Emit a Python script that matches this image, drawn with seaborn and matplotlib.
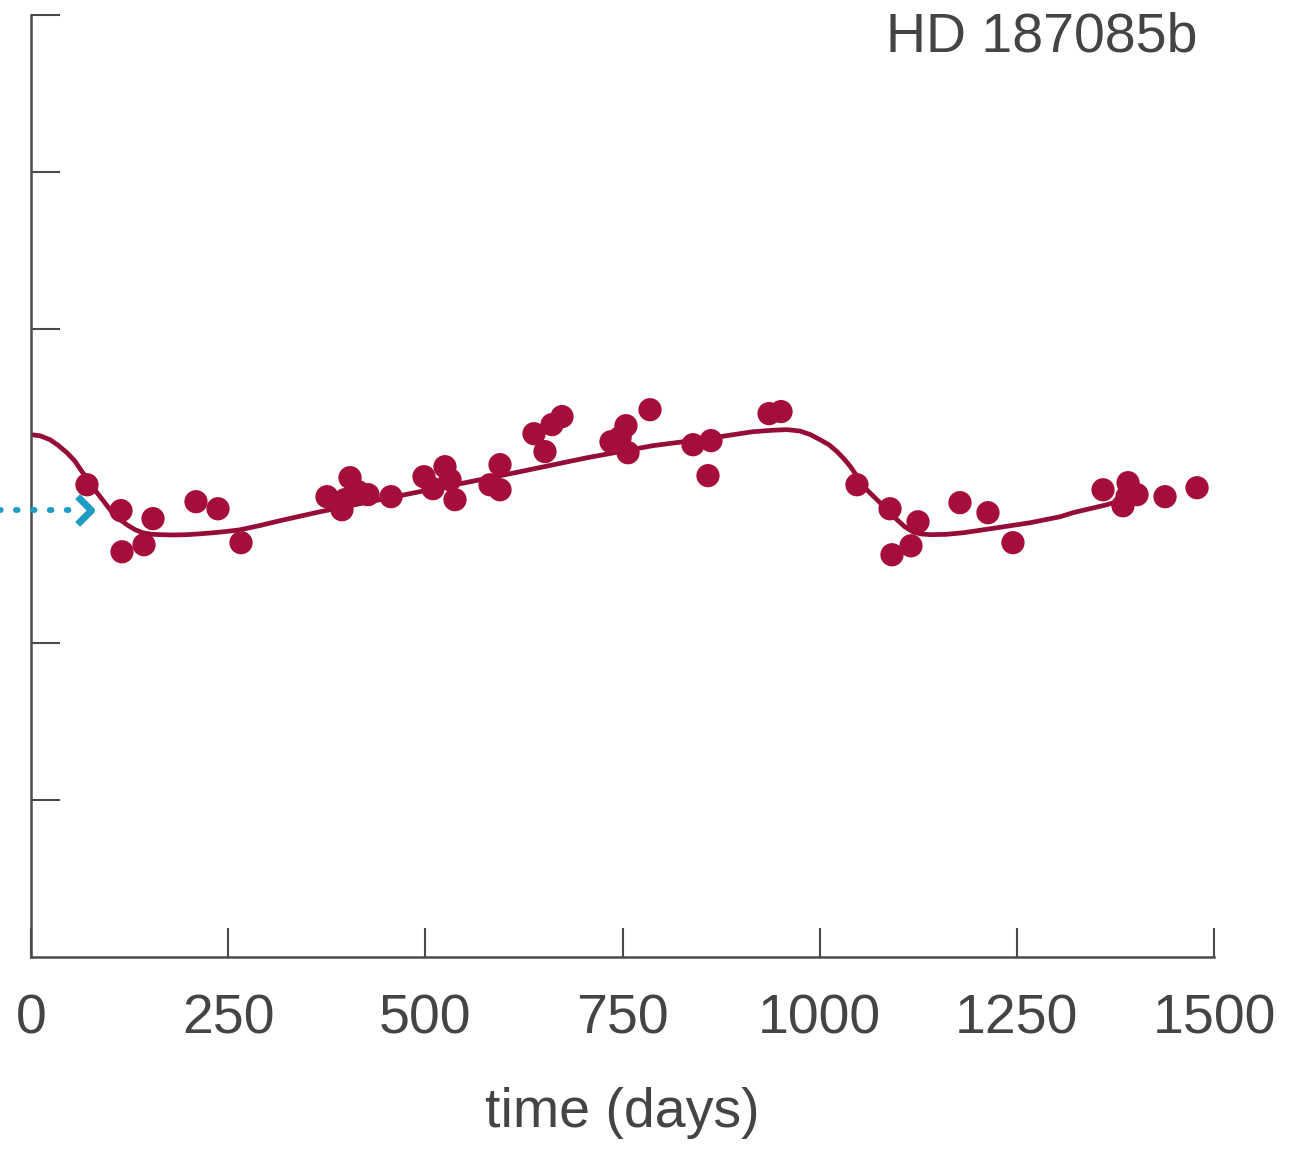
import numpy as np
import pandas as pd
import matplotlib
matplotlib.use("Agg")
import matplotlib.pyplot as plt
from matplotlib.path import Path
import seaborn as sns

# ---- data ----
obs_days = [71.0, 114.1, 115.4, 143.3, 154.7, 209.2, 237.1, 266.3,
            375.3, 394.3, 404.5, 398.1, 414.6, 427.3, 456.5,
            498.3, 509.7, 524.9, 531.3, 537.6, 582.0, 594.7, 594.7,
            637.8, 651.7, 660.6, 673.3, 735.4, 754.4, 757.0, 747.0,
            784.9, 839.4, 858.4, 862.2, 935.8, 951.0,
            1047.3, 1089.2, 1091.7, 1115.8, 1124.7, 1177.9, 1213.4, 1245.1,
            1359.3, 1391.0, 1384.6, 1402.4, 1389.7, 1437.9, 1478.5]
obs_vals = [3.008, 2.843, 2.581, 2.626, 2.792, 2.900, 2.855, 2.639,
            2.932, 2.849, 3.053, 2.913, 2.964, 2.945, 2.932,
            3.059, 2.983, 3.123, 3.040, 2.913, 3.008, 2.976, 3.136,
            3.333, 3.219, 3.391, 3.442, 3.282, 3.384, 3.212, 3.310,
            3.486, 3.263, 3.066, 3.289, 3.461, 3.474,
            3.008, 2.855, 2.562, 2.619, 2.772, 2.894, 2.830, 2.639,
            2.976, 3.021, 2.874, 2.945, 2.932, 2.932, 2.989]

fit_days = [0, 11.4, 24.1, 34.2, 45.6, 55.8, 64.7, 74.9, 83.7, 92.6, 100.2,
            110.3, 121.7, 131.8, 142.0, 152.2, 163.6, 180.0, 197.8, 213.0,
            230.8, 247.0, 265.0, 290.0, 315.7, 366.4, 429.8, 493.2, 556.6,
            620.0, 705.0, 788.7, 835.0, 873.6, 915.5, 940.0, 958.6, 975.1,
            988.0, 1000.4, 1012.0, 1022.0, 1031.0, 1038.5, 1047.0, 1055.0,
            1066.0, 1076.5, 1087.0, 1098.1, 1108.0, 1118.4, 1128.0, 1139.9,
            1160.0, 1181.8, 1224.9, 1266.7, 1304.8, 1321.2, 1364.3, 1380.8]
fit_vals = [3.327, 3.320, 3.295, 3.260, 3.212, 3.158, 3.091, 3.025, 2.957,
            2.900, 2.849, 2.795, 2.753, 2.722, 2.702, 2.693, 2.690, 2.688,
            2.690, 2.695, 2.702, 2.710, 2.721, 2.748, 2.779, 2.836, 2.900,
            2.964, 3.027, 3.091, 3.180, 3.257, 3.287, 3.314, 3.346, 3.355,
            3.359, 3.350, 3.328, 3.295, 3.262, 3.219, 3.172, 3.127, 3.065,
            3.000, 2.945, 2.894, 2.838, 2.785, 2.740, 2.708, 2.695, 2.690,
            2.692, 2.702, 2.734, 2.766, 2.804, 2.830, 2.881, 2.906]

x_ticks = [0, 250, 500, 750, 1000, 1250, 1500]
y_ticks = [1, 2, 4, 5, 6]
planet_label = "HD 187085b"
x_label = "time (days)"
arrow_level = 2.849

obs = pd.DataFrame({"day": obs_days, "val": obs_vals})
fit = pd.DataFrame({"day": fit_days, "val": fit_vals})

# ---- style ----
sns.set_style("ticks")
plt.rcParams["font.family"] = ["Liberation Sans", "DejaVu Sans"]
text_color = "#444444"
axis_color = "#4a4a4a"
red = "#a50d3b"
line_red = "#950c37"
blue = "#1e9cc4"

fig = plt.figure(figsize=(12.95, 11.51), dpi=100)
ax = fig.add_axes([31 / 1295, 1 - 957 / 1151, (1214 - 31) / 1295, (957 - 15) / 1151])

sns.lineplot(data=fit, x="day", y="val", ax=ax, color=line_red, lw=3.4,
             sort=False, estimator=None, zorder=2)
sns.scatterplot(data=obs, x="day", y="val", ax=ax, color=red, s=280,
                edgecolor="none", linewidth=0, zorder=3)

ax.set_xlim(0, 1500)
ax.set_ylim(0, 6)
ax.set_xticks(x_ticks)
ax.set_xticklabels([str(t) for t in x_ticks])
ax.set_yticks(y_ticks)
ax.set_yticklabels([])
ax.set_ylabel("")
ax.set_xlabel(x_label, fontsize=40, color=text_color, labelpad=30)

for s in ["top", "right"]:
    ax.spines[s].set_visible(False)
for s in ["left", "bottom"]:
    ax.spines[s].set_color(axis_color)
    ax.spines[s].set_linewidth(1.8)

ax.tick_params(axis="both", direction="in", length=21, width=1.5,
               color=axis_color)
ax.tick_params(axis="x", labelsize=40, labelcolor=text_color, pad=26)

# blue dotted pointer at the left
ax.plot([-45, 52], [arrow_level, arrow_level], color=blue, lw=4.2,
        linestyle=(0, (0.3, 2.6)), dash_capstyle="round", clip_on=False,
        zorder=4)
chevron = Path([(-1.0, 1.0), (0.0, 0.0), (-1.0, -1.0)],
               [Path.MOVETO, Path.LINETO, Path.LINETO])
ax.plot([76], [arrow_level], marker=chevron, markersize=20, color=blue,
        markerfacecolor="none", markeredgewidth=5, clip_on=False, zorder=4)

fig.text(1197 / 1295, 1 - 37 / 1151, planet_label, fontsize=40,
         color=text_color, ha="right", va="center")

fig.savefig("out.png", dpi=100)
